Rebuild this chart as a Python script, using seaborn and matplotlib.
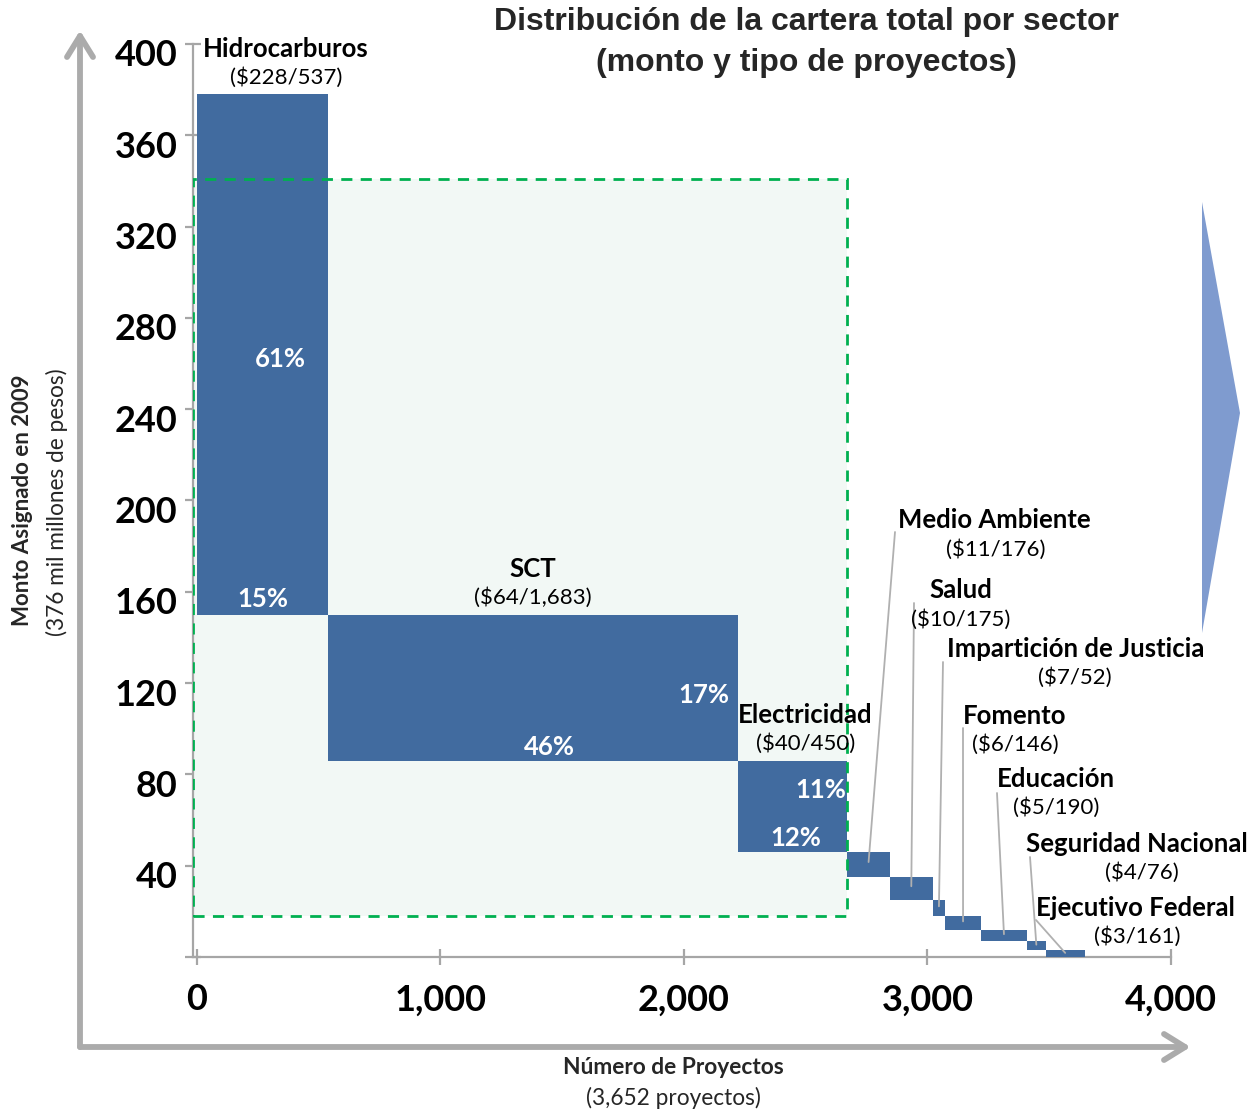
import matplotlib
matplotlib.use("Agg")
import matplotlib.pyplot as plt
from matplotlib import font_manager
from matplotlib.lines import Line2D
from matplotlib.patches import Polygon, Rectangle
from matplotlib.transforms import ScaledTranslation
import seaborn as sns
import pandas as pd

# ---------------- data ----------------
sectors = ["Hidrocarburos", "SCT", "Electricidad", "Medio Ambiente", "Salud",
           "Impartición de Justicia", "Fomento", "Educación",
           "Seguridad Nacional", "Ejecutivo Federal"]
amounts = [228, 64, 40, 11, 10, 7, 6, 5, 4, 3]            # miles de millones de pesos
projects = [537, 1683, 450, 176, 175, 52, 146, 190, 76, 161]
total_amount = 376
total_projects = 3652
x_ticks = [0, 1000, 2000, 3000, 4000]
y_ticks = [0, 40, 80, 120, 160, 200, 240, 280, 320, 360, 400]
highlight_box_y = (18, 341)   # shaded zone (three main sectors)

# ---------------- setup ----------------
W, H = 1249, 1110
sns.set_theme(style="white")
names = {f.name for f in font_manager.fontManager.ttflist}
BODY = ["Lato", "DejaVu Sans"]
if "Liberation Sans Narrow" in names:
    TITLE = ["Liberation Sans Narrow", "DejaVu Sans"]
    TSIZE = 27
else:
    TITLE = ["Liberation Sans", "DejaVu Sans"]
    TSIZE = 23
plt.rcParams["font.family"] = BODY

BLUE = "#416B9F"
GRAY = "#A6A6A6"

fig = plt.figure(figsize=(W / 100, H / 100), dpi=100)
px = lambda x: x / W
py = lambda y: 1 - y / H

x0 = -16.4
ax = fig.add_axes([px(193), py(957), px(1171) - px(193), py(44) - py(957)])
ax.set_xlim(x0, 4000)
ax.set_ylim(0, 400)
ax.set_facecolor("none")

# cumulative geometry
lefts, bottoms = [], []
acc = 0
for p in projects:
    lefts.append(acc)
    acc += p
rem = sum(amounts)
for a in amounts:
    rem -= a
    bottoms.append(rem)
df = pd.DataFrame({"sector": sectors, "amount": amounts, "projects": projects,
                   "left": lefts, "bottom": bottoms})

# shaded highlight zone (three main sectors)
box_right = df.left[2] + df.projects[2]
ax.add_patch(Rectangle((x0 + 2, highlight_box_y[0]), box_right - x0 - 2,
                       highlight_box_y[1] - highlight_box_y[0],
                       facecolor="#F2F8F5", edgecolor="none", zorder=1))
ax.add_patch(Rectangle((x0 + 2, highlight_box_y[0]), box_right - x0 - 2,
                       highlight_box_y[1] - highlight_box_y[0],
                       facecolor="none", edgecolor="#00B050", lw=2,
                       ls=(0, (4, 3)), zorder=4))

# blocks
ax.bar(df.left, df.amount, width=df.projects, bottom=df.bottom, align="edge",
       color=BLUE, edgecolor="none", linewidth=0, zorder=3)

# axes styling
sns.despine(ax=ax, top=True, right=True)
for s in ("left", "bottom"):
    ax.spines[s].set_color(GRAY)
    ax.spines[s].set_linewidth(1.6)
ax.set_xticks(x_ticks)
ax.set_xticklabels([f"{v:,}" for v in x_ticks])
ax.set_yticks(y_ticks)
ax.set_yticklabels([("" if v == 0 else str(v)) for v in y_ticks])
ax.tick_params(axis="x", direction="inout", length=12, width=1.6, color=GRAY,
               labelsize=26, pad=13, bottom=True)
ax.tick_params(axis="y", direction="inout", length=12, width=1.6, color=GRAY,
               labelsize=26, pad=5, left=True)
ydown = ScaledTranslation(0, -0.09, fig.dpi_scale_trans)
for t in ax.get_yticklabels():
    t.set_transform(t.get_transform() + ydown)
for t in ax.get_xticklabels() + ax.get_yticklabels():
    t.set_fontweight("bold")
    t.set_color("black")

# percentage labels (share of amount / share of projects)
pa = [round(100 * a / total_amount) for a in amounts]
pp = [round(100 * p / total_projects) for p in projects]
pk = dict(color="white", fontsize=18.5, fontweight="bold", zorder=5)
r = df.iloc[0]
ax.text(r.left + 0.64 * r.projects, 262, f"{pa[0]}%", ha="center", va="center", **pk)
ax.text(r.left + 0.5 * r.projects, r.bottom + 7, f"{pp[0]}%", ha="center", va="center", **pk)
r = df.iloc[1]
ax.text(r.left + r.projects - 35, 115, f"{pa[1]}%", ha="right", va="center", **pk)
ax.text(r.left + 0.54 * r.projects, r.bottom + 6, f"{pp[1]}%", ha="center", va="center", **pk)
r = df.iloc[2]
ax.text(r.left + r.projects - 5, 73, f"{pa[2]}%", ha="right", va="center", **pk)
ax.text(r.left + 0.53 * r.projects, r.bottom + 6, f"{pp[2]}%", ha="center", va="center", **pk)

# sector labels
lk_b = dict(fontsize=18.5, fontweight="bold", color="black", ha="center", va="center", zorder=6)
lk_r = dict(fontsize=16, color="black", ha="center", va="center", zorder=6)
def sub(i):
    return f"(${amounts[i]}/{projects[i]:,})"

for i, frac in zip(range(3), [0.68, 0.5, 0.62]):
    r = df.iloc[i]
    top = r.bottom + r.amount
    cx = r.left + frac * r.projects
    ax.text(cx, top + 20, sectors[i], **lk_b)
    ax.text(cx, top + 7.5, sub(i), **lk_r)

# small sectors: label positions in figure pixels (name, sub, leader start)
small = {
    3: ((994, 520), (996, 550), (895, 532)),
    4: ((961, 590), (961, 620), (914, 603)),
    5: ((1076, 649), (1075, 678), (943, 662)),
    6: ((1015, 716), (1015, 745), (963, 728)),
    7: ((1056, 779), (1056, 808), (997, 793)),
    8: ((1137, 844), (1142, 873), (1030, 857)),
    9: ((1135, 908), (1137, 937), (1036, 920)),
}
for i, (pn, ps, pl) in small.items():
    fig.text(px(pn[0]), py(pn[1]), sectors[i], **lk_b)
    fig.text(px(ps[0]), py(ps[1]), sub(i), **lk_r)
    r = df.iloc[i]
    ax.annotate("", xy=(r.left + 0.5 * r.projects, r.bottom + 0.6 * r.amount),
                xycoords="data", xytext=(pl[0], H - pl[1]),
                textcoords="figure pixels",
                arrowprops=dict(arrowstyle="-", color="#B0B0B0", lw=1.3,
                                shrinkA=0, shrinkB=0), zorder=6)

# title
fig.text(px(806), py(22), "Distribución de la cartera total por sector",
         family=TITLE, fontsize=TSIZE, fontweight="bold", ha="center", va="center")
fig.text(px(806), py(63), "(monto y tipo de proyectos)",
         family=TITLE, fontsize=TSIZE, fontweight="bold", ha="center", va="center")

# axis titles
fig.text(px(23), py(500), "Monto Asignado en 2009", rotation=90, fontsize=16,
         fontweight="bold", ha="center", va="center")
fig.text(px(57), py(502), f"({total_amount} mil millones de pesos)", rotation=90,
         fontsize=16.3, ha="center", va="center")
fig.text(px(673), py(1068), "Número de Proyectos", fontsize=16.4, fontweight="bold",
         ha="center", va="center")
fig.text(px(673), py(1098), f"({total_projects:,} proyectos)", fontsize=16.3,
         ha="center", va="center")

# big gray axis arrows
ak = dict(color="#ABABAB", lw=4.2, solid_capstyle="round", transform=fig.transFigure)
fig.add_artist(Line2D([px(80), px(80)], [py(1047), py(36)], **ak))
fig.add_artist(Line2D([px(67), px(80), px(93)], [py(57), py(36), py(57)], **ak))
fig.add_artist(Line2D([px(80), px(1185)], [py(1047), py(1047)], **ak))
fig.add_artist(Line2D([px(1164), px(1185), px(1164)], [py(1034), py(1047), py(1060)], **ak))

# decorative blue arrow on the right
fig.add_artist(Polygon([(px(1202), py(202)), (px(1240), py(413)), (px(1202), py(633))],
                       closed=True, facecolor="#7F9BCF", edgecolor="none",
                       transform=fig.transFigure))

fig.savefig("out.png", dpi=100)
